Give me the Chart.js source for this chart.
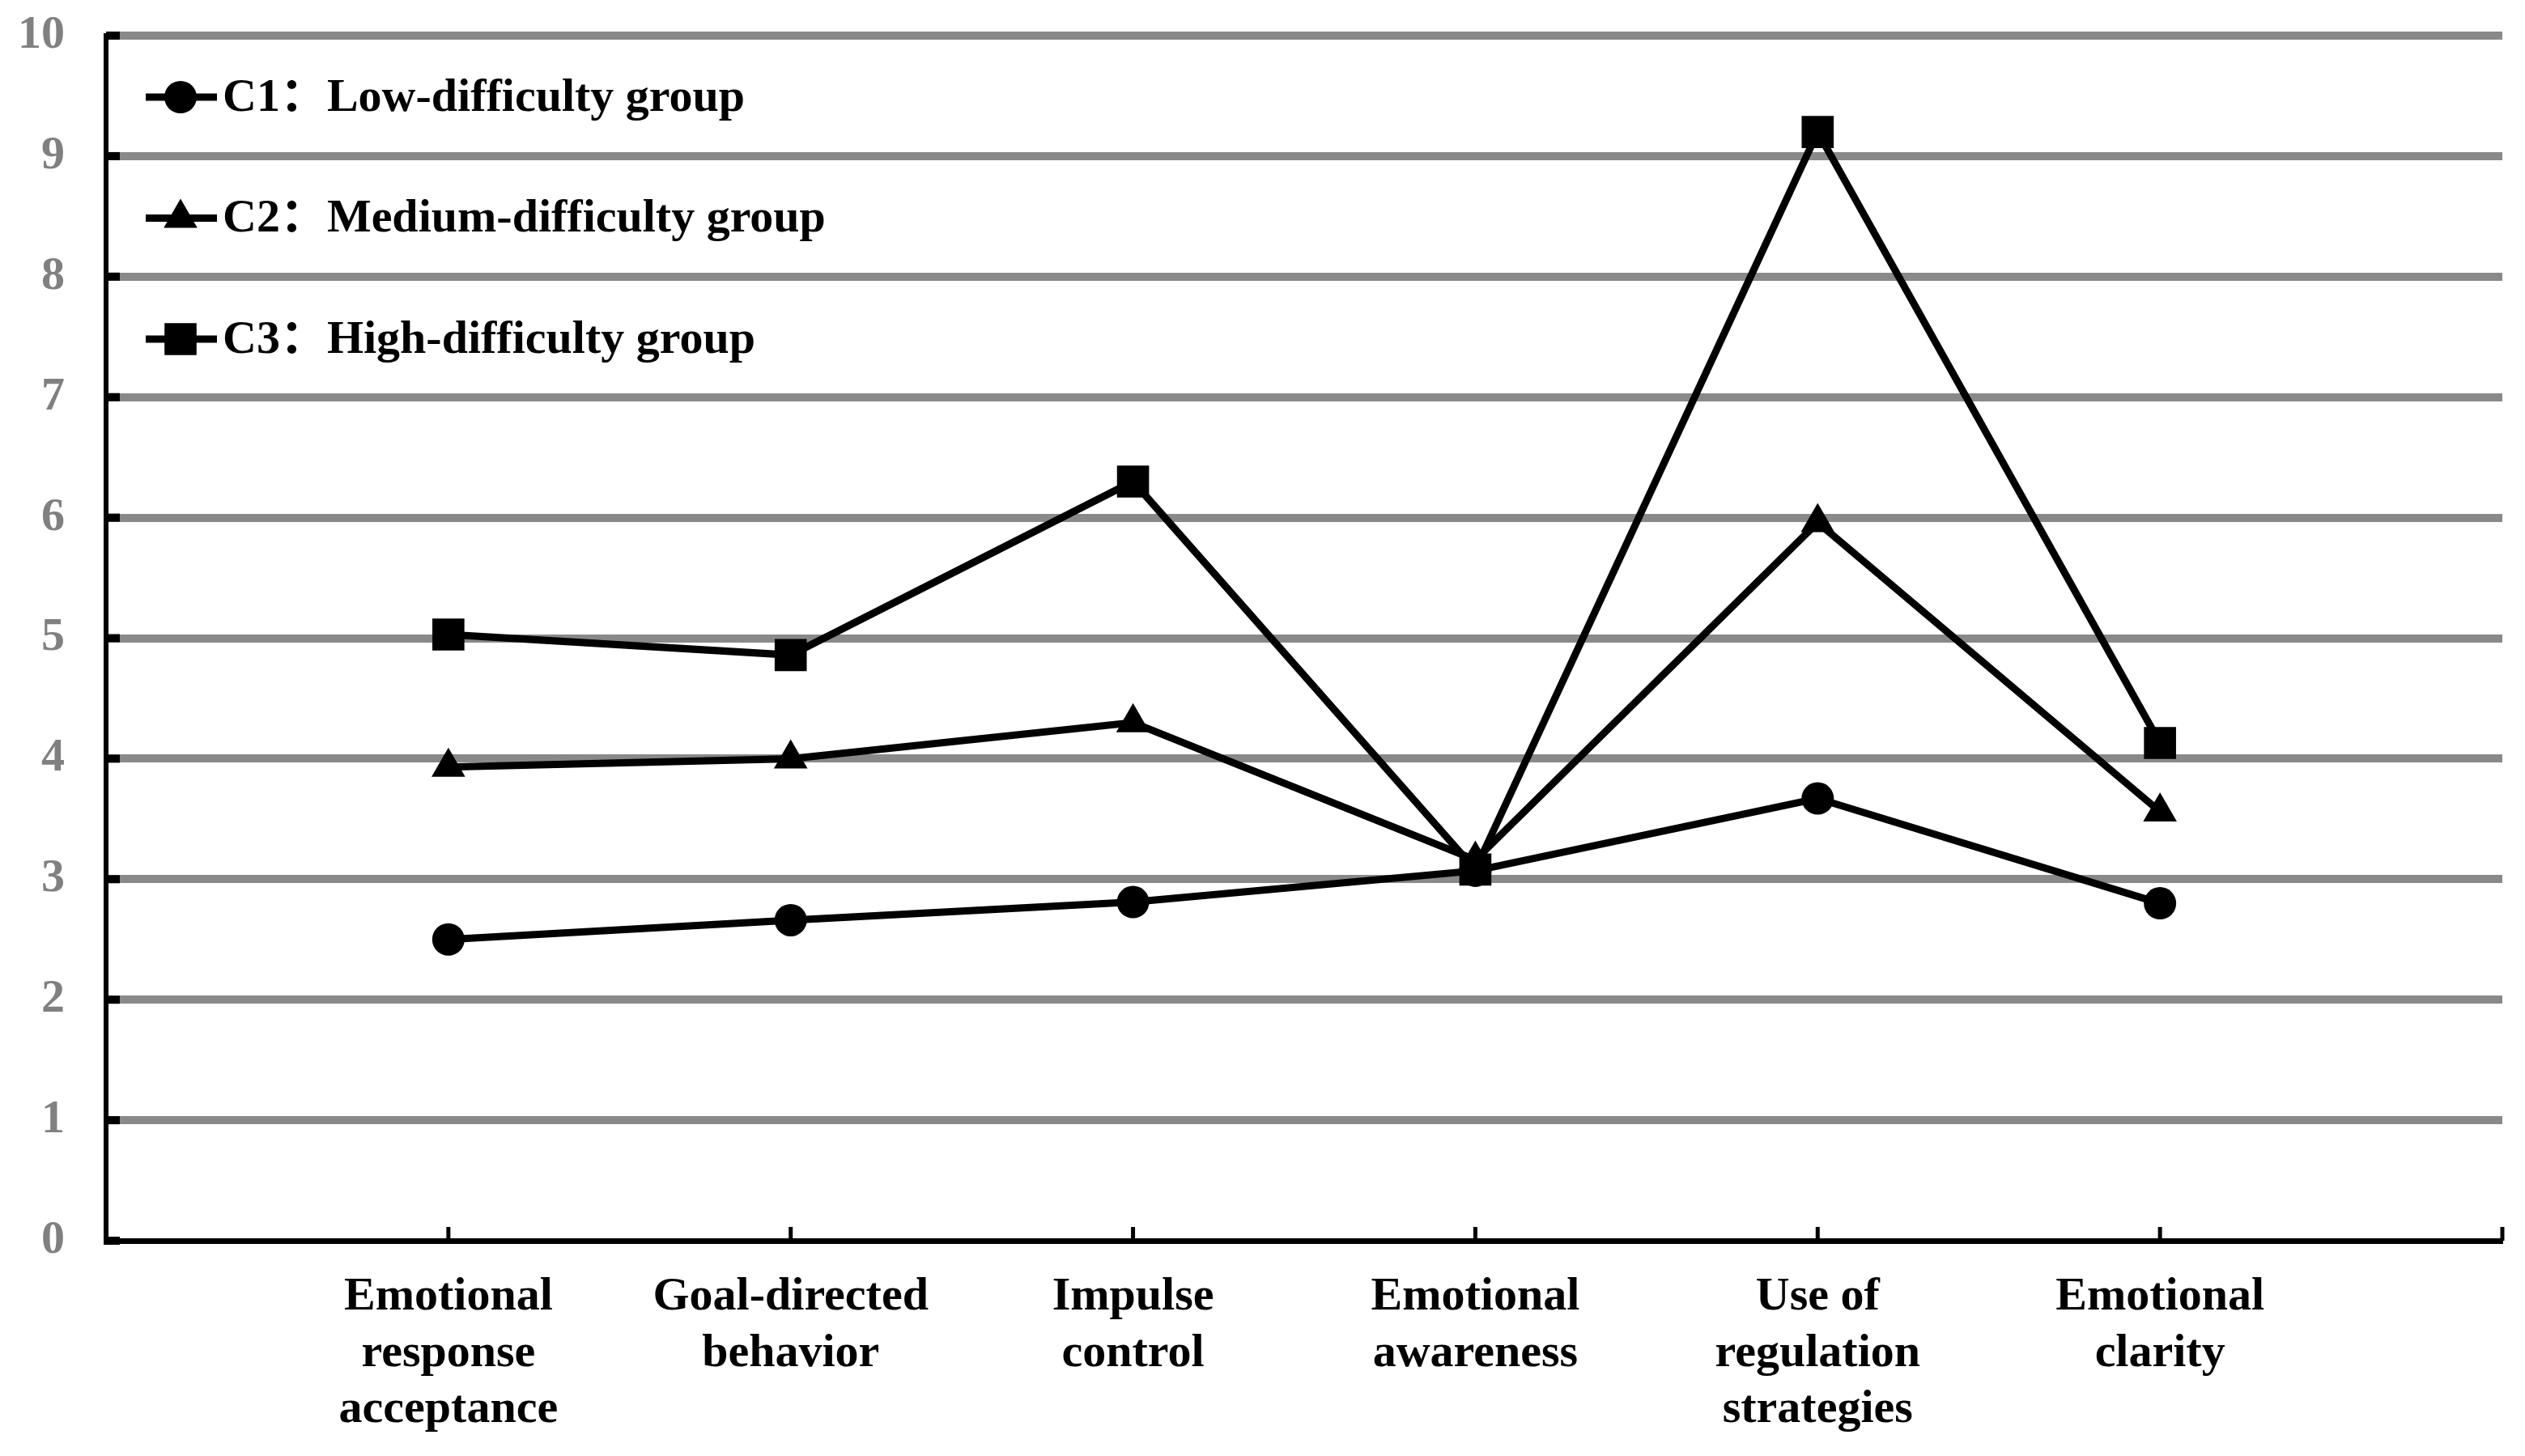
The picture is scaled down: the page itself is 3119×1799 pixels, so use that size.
<!DOCTYPE html>
<html><head><meta charset="utf-8">
<script src="https://cdn.jsdelivr.net/npm/chart.js@4"></script>
<style>html,body{margin:0;padding:0;background:#fff;} canvas{display:block}</style>
</head><body>
<canvas id="c" width="3119" height="1799" style="width:3119px;height:1799px"></canvas>
<script>
// ---- data ----
const categories = [
  ['Emotional','response','acceptance'],
  ['Goal-directed','behavior'],
  ['Impulse','control'],
  ['Emotional','awareness'],
  ['Use of','regulation','strategies'],
  ['Emotional','clarity']
];
const seriesNames = ['C1：Low-difficulty group','C2：Medium-difficulty group','C3：High-difficulty group'];
const c1 = [2.50, 2.66, 2.81, 3.07, 3.67, 2.80];
const c2 = [3.93, 4.00, 4.30, 3.16, 5.96, 3.56];
const c3 = [5.03, 4.86, 6.30, 3.08, 9.20, 4.13];
const yMin = 0, yMax = 10, yStep = 1;
const pointStyles = ['circle','triangle','rect'];
const pointRadii = [20, 24, 28];

// ---- build ----
const FONT = "'Liberation Serif','Times New Roman','Noto Sans CJK SC',serif";
const labels = [''].concat(categories, ['']);
const pad = a => [null].concat(a, [null]);
const series = [c1, c2, c3];
const datasets = series.map((s, i) => ({
  label: seriesNames[i],
  data: pad(s),
  borderColor: '#000',
  backgroundColor: '#000',
  borderWidth: 9,
  tension: 0,
  pointStyle: pointStyles[i],
  pointRadius: pointRadii[i],
  pointHoverRadius: pointRadii[i],
  pointBorderWidth: 0,
  pointBackgroundColor: '#000',
  spanGaps: false
}));

const innerTicks = {
  id: 'innerTicks',
  beforeDatasetsDraw(chart) {
    const ctx = chart.ctx, a = chart.chartArea;
    const xs = chart.scales.x, ys = chart.scales.y;
    ctx.save();
    ctx.strokeStyle = '#000';
    ctx.lineWidth = 5;
    for (let i = 1; i < xs.ticks.length; i++) {
      const px = xs.getPixelForTick(i);
      ctx.beginPath(); ctx.moveTo(px, a.bottom); ctx.lineTo(px, a.bottom - 17); ctx.stroke();
    }
    ctx.lineWidth = 10;
    for (let i = 0; i < ys.ticks.length; i++) {
      const py = ys.getPixelForTick(i);
      ctx.beginPath(); ctx.moveTo(a.left, py); ctx.lineTo(a.left + 17, py); ctx.stroke();
    }
    ctx.restore();
  }
};

const customLegend = {
  id: 'customLegend',
  afterDatasetsDraw(chart) {
    const ctx = chart.ctx, a = chart.chartArea;
    chart.data.datasets.forEach((ds, i) => {
      const y = a.top + 76 + i * 149.5;
      const x0 = a.left + 49, x1 = a.left + 137, xm = a.left + 92;
      ctx.save();
      ctx.strokeStyle = '#000'; ctx.lineWidth = 9;
      ctx.beginPath(); ctx.moveTo(x0, y); ctx.lineTo(x1, y); ctx.stroke();
      ctx.fillStyle = '#000';
      Chart.helpers.drawPoint(ctx, {pointStyle: ds.pointStyle, radius: ds.pointRadius, borderWidth: 0, rotation: 0}, xm, y);
      ctx.font = 'bold 58px ' + FONT;
      ctx.textBaseline = 'middle';
      ctx.textAlign = 'left';
      ctx.fillText(ds.label, a.left + 144, y + 2);
      ctx.restore();
    });
  }
};

new Chart(document.getElementById('c'), {
  type: 'line',
  data: { labels, datasets },
  plugins: [innerTicks, customLegend],
  options: {
    responsive: false,
    devicePixelRatio: 1,
    animation: false,
    layout: { padding: { top: 44, right: 27, left: 0, bottom: 0 } },
    plugins: { legend: { display: false }, tooltip: { enabled: false } },
    scales: {
      x: {
        type: 'category',
        offset: false,
        afterFit(s) { s.height = 266; s.paddingLeft = 0; s.paddingRight = 0; },
        grid: { display: false, drawTicks: false },
        border: { display: true, color: '#000', width: 7 },
        ticks: {
          autoSkip: false, maxRotation: 0, minRotation: 0,
          color: '#000', padding: 36,
          font: { family: FONT, size: 58, weight: 'bold', lineHeight: 1.19 }
        }
      },
      y: {
        min: yMin, max: yMax,
        afterFit(s) { s.width = 131; s.paddingTop = 0; s.paddingBottom = 0; },
        grid: {
          color: c => c.tick && c.tick.value === 0 ? 'rgba(0,0,0,0)' : '#898989',
          lineWidth: 10, drawTicks: false
        },
        border: { display: true, color: '#000', width: 6 },
        ticks: {
          stepSize: yStep, color: '#808080', padding: 51,
          font: { family: FONT, size: 58, weight: 'bold' }
        }
      }
    }
  }
});
</script>
</body></html>
